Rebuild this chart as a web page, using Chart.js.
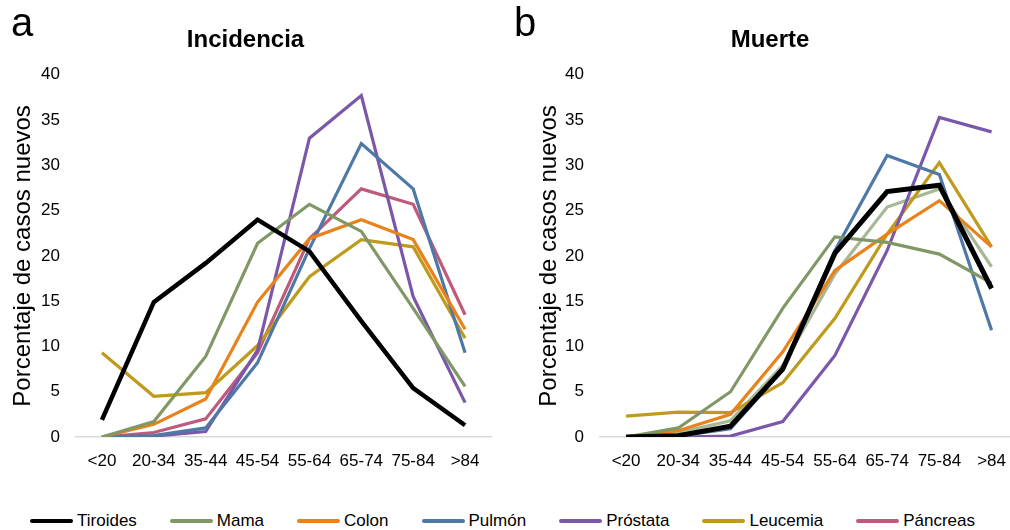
<!DOCTYPE html>
<html>
<head>
<meta charset="utf-8">
<script src="https://cdn.jsdelivr.net/npm/chart.js@4.4.1/dist/chart.umd.min.js"></script>
<style>
  body { margin: 0; background: #fff; font-family: "Liberation Sans", Arial, sans-serif; }
  #wrap { position: relative; width: 1010px; height: 530px; overflow: hidden; }
  .box { position: absolute; top: 0; height: 485px; }
  .letter { position: absolute; top: 0px; font-size: 40px; color: #000; }
  #legend { position: absolute; top: 511px; left: 30px; display: flex; font-size: 17px; color: #000; }
  .item { display: flex; align-items: center; margin-right: 33px; }
  .swatch { width: 43px; height: 4px; margin-right: 4px; border-radius: 2px; }
</style>
</head>
<body>
<div id="wrap">
  <div class="box" style="left:0; width:500px;"><canvas id="chartA"></canvas></div>
  <div class="box" style="left:520px; width:500px;"><canvas id="chartB"></canvas></div>
  <div class="letter" style="left:11px;">a</div>
  <div class="letter" style="left:514px;">b</div>
  <div id="legend"></div>
</div>
<script>
var categories = ["<20", "20-34", "35-44", "45-54", "55-64", "65-74", "75-84", ">84"];
var yTicks = [0, 5, 10, 15, 20, 25, 30, 35, 40];
var seriesNames = ["Tiroides", "Mama", "Colon", "Pulmón", "Próstata", "Leucemia", "Páncreas"];
var seriesColors = ["#000000", "#7f9866", "#e8821a", "#4e79a7", "#7a57a9", "#bf9a1c", "#bf5a7c"];

// panel a - Incidencia
var incTiroides = [1.9, 14.9, 19.2, 24.0, 20.5, 12.8, 5.4, 1.3];
var incMama = [0, 1.7, 8.9, 21.4, 25.7, 22.7, 14.2, 5.6];
var incColon = [0, 1.4, 4.2, 14.9, 21.9, 24.0, 21.8, 11.9];
var incPulmon = [0, 0.15, 1.0, 8.2, 20.8, 32.4, 27.4, 9.3];
var incProstata = [0, 0.1, 0.6, 9.6, 33.0, 37.7, 15.5, 3.8];
var incLeucemia = [9.3, 4.5, 4.9, 10.1, 17.7, 21.8, 21.0, 10.9];
var incPancreas = [0, 0.5, 2.0, 9.3, 21.9, 27.4, 25.7, 13.5];

// panel b - Muerte
var murTiroides = [0, 0.15, 1.2, 7.5, 20.3, 27.1, 27.8, 16.4];
var murMama = [0, 1.0, 5.0, 14.2, 22.1, 21.5, 20.2, 17.0];
var murColon = [0, 0.7, 2.5, 9.4, 18.4, 22.4, 26.1, 21.0];
var murPulmon = [0, 0.1, 0.9, 7.4, 20.6, 31.1, 29.0, 11.8];
var murProstata = [0, 0, 0.1, 1.7, 9.0, 20.6, 35.3, 33.7];
var murLeucemia = [2.3, 2.75, 2.7, 6.0, 13.1, 22.4, 30.3, 21.0];
var murPancreas = [0, 0.5, 1.8, 7.9, 18.0, 25.4, 27.4, 18.8];
var murPancreasColor = "#a8b896";

var incData = [incTiroides, incMama, incColon, incPulmon, incProstata, incLeucemia, incPancreas];
var murData = [murTiroides, murMama, murColon, murPulmon, murProstata, murLeucemia, murPancreas];

Chart.defaults.font.family = '"Liberation Sans", Arial, sans-serif';
Chart.defaults.color = "#000";

function makeSets(data, colors, blackWidth) {
    var sets = [];
    // black goes last so it sits on top
    for (var i = data.length - 1; i >= 0; i--) {
        sets.push({
            label: seriesNames[i],
            data: data[i],
            borderColor: colors[i],
            backgroundColor: colors[i],
            borderWidth: i == 0 ? blackWidth : 3.2,
            pointRadius: 0,
            tension: 0,
            order: i
        });
    }
    return sets;
}

function makeChart(id, title, sets, yWidth, padRight, titlePad) {
    new Chart(document.getElementById(id), {
        type: "line",
        data: { labels: categories, datasets: sets },
        options: {
            responsive: true,
            maintainAspectRatio: false,
            animation: false,
            layout: { padding: { top: 0, right: padRight, bottom: 0, left: 0 } },
            plugins: {
                legend: { display: false },
                tooltip: { enabled: false },
                title: {
                    display: true,
                    text: title,
                    font: { size: 24, weight: "bold" },
                    color: "#000",
                    padding: { top: 26, bottom: 20 }
                }
            },
            scales: {
                x: {
                    offset: true,
                    grid: { display: false, drawTicks: false },
                    border: { display: true, color: "#d9d9d9", width: 1.5 },
                    ticks: { font: { size: 17 }, padding: 14, maxRotation: 0, autoSkip: false },
                    afterFit: function (s) { s.height = 48; }
                },
                y: {
                    min: 0,
                    max: 40,
                    afterBuildTicks: function (s) { s.ticks = yTicks.map(function (v) { return { value: v }; }); },
                    grid: { display: false, drawTicks: false },
                    border: { display: false },
                    ticks: { font: { size: 17 }, padding: 16 },
                    title: { display: true, text: "Porcentaje de casos nuevos", font: { size: 24 }, padding: { top: titlePad, bottom: 0 } },
                    afterFit: function (s) { s.width = yWidth; }
                }
            }
        }
    });
}

var colorsB = seriesColors.slice();
colorsB[6] = murPancreasColor;

makeChart("chartA", "Incidencia", makeSets(incData, seriesColors, 4.5), 76, 9, 9);
makeChart("chartB", "Muerte", makeSets(murData, colorsB, 5), 80, 0, 15);

// legend
var legend = document.getElementById("legend");
for (var i = 0; i < seriesNames.length; i++) {
    var item = document.createElement("div");
    item.className = "item";
    item.innerHTML = '<span class="swatch" style="background:' + seriesColors[i] + '"></span><span>' + seriesNames[i] + '</span>';
    legend.appendChild(item);
}
</script>
</body>
</html>
